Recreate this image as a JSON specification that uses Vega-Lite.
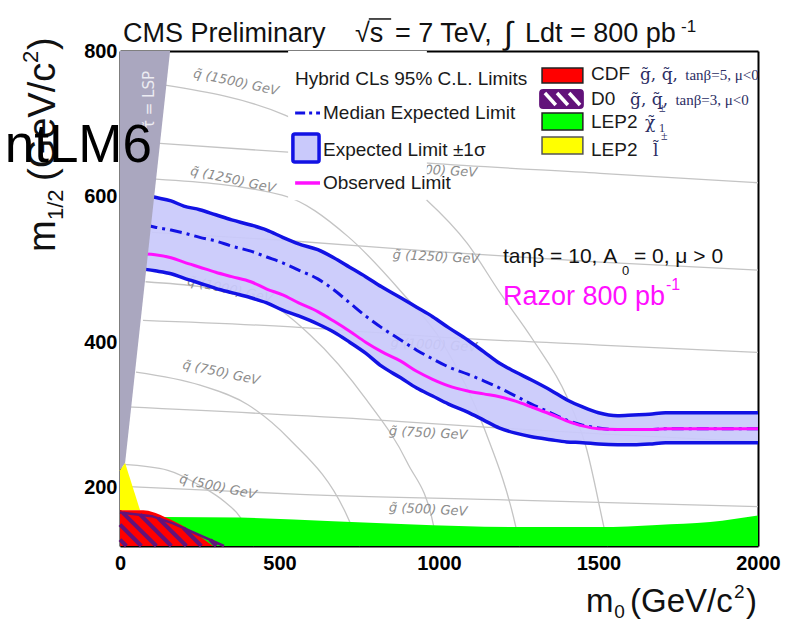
{
  "$schema": "https://vega.github.io/schema/vega-lite/v6.json",
  "width": 638,
  "height": 495,
  "autosize": {"type": "none"},
  "padding": {"left": 120, "top": 51, "right": 40, "bottom": 76},
  "background": "white",
  "config": {
    "view": {"stroke": null},
    "text": {"font": "Liberation Sans"},
    "axis": {"title": null, "grid": false, "zindex": 1, "ticks": false, "domainColor": "#000", "domainWidth": 2, "labelFlush": false, "labelOverlap": false}
  },
  "datasets": {
    "iso": [
      {"c": "q1500", "m0": 141, "m": 753}, {"c": "q1500", "m0": 517, "m": 712}, {"c": "q1500", "m0": 740, "m": 660}, {"c": "q1500", "m0": 962, "m": 595}, {"c": "q1500", "m0": 1088, "m": 536}, {"c": "q1500", "m0": 1191, "m": 468}, {"c": "q1500", "m0": 1295, "m": 403}, {"c": "q1500", "m0": 1401, "m": 325}, {"c": "q1500", "m0": 1461, "m": 256}, {"c": "q1500", "m0": 1517, "m": 146}, {"c": "q1500", "m0": 1530, "m": 120},
      {"c": "q1250", "m0": 112, "m": 624}, {"c": "q1250", "m0": 508, "m": 602}, {"c": "q1250", "m0": 715, "m": 545}, {"c": "q1250", "m0": 880, "m": 470}, {"c": "q1250", "m0": 1010, "m": 400}, {"c": "q1250", "m0": 1144, "m": 279}, {"c": "q1250", "m0": 1241, "m": 146}, {"c": "q1250", "m0": 1254, "m": 120},
      {"c": "q1000", "m0": 80, "m": 483}, {"c": "q1000", "m0": 423, "m": 462}, {"c": "q1000", "m0": 596, "m": 410}, {"c": "q1000", "m0": 774, "m": 320}, {"c": "q1000", "m0": 900, "m": 235}, {"c": "q1000", "m0": 984, "m": 146}, {"c": "q1000", "m0": 994, "m": 120},
      {"c": "q750", "m0": 50, "m": 359}, {"c": "q750", "m0": 251, "m": 341}, {"c": "q750", "m0": 401, "m": 314}, {"c": "q750", "m0": 533, "m": 266}, {"c": "q750", "m0": 708, "m": 165}, {"c": "q750", "m0": 752, "m": 120},
      {"c": "q500", "m0": 10, "m": 232}, {"c": "q500", "m0": 150, "m": 224}, {"c": "q500", "m0": 251, "m": 203}, {"c": "q500", "m0": 330, "m": 180}, {"c": "q500", "m0": 376, "m": 160}, {"c": "q500", "m0": 420, "m": 120},
      {"c": "g1500", "m0": 125, "m": 673}, {"c": "g1500", "m0": 527, "m": 661}, {"c": "g1500", "m0": 966, "m": 646}, {"c": "g1500", "m0": 1505, "m": 632}, {"c": "g1500", "m0": 2000, "m": 619},
      {"c": "g1250", "m0": 100, "m": 551}, {"c": "g1250", "m0": 511, "m": 540}, {"c": "g1250", "m0": 1003, "m": 524}, {"c": "g1250", "m0": 1505, "m": 510}, {"c": "g1250", "m0": 2000, "m": 499},
      {"c": "g1000", "m0": 72, "m": 430}, {"c": "g1000", "m0": 539, "m": 421}, {"c": "g1000", "m0": 1003, "m": 407}, {"c": "g1000", "m0": 1505, "m": 396}, {"c": "g1000", "m0": 2000, "m": 386},
      {"c": "g750", "m0": 22, "m": 311}, {"c": "g750", "m0": 812, "m": 293}, {"c": "g750", "m0": 1157, "m": 283}, {"c": "g750", "m0": 1505, "m": 274}, {"c": "g750", "m0": 2000, "m": 263},
      {"c": "g500", "m0": 10, "m": 202}, {"c": "g500", "m0": 564, "m": 191}, {"c": "g500", "m0": 1235, "m": 183}, {"c": "g500", "m0": 2000, "m": 174}
    ],
    "isoSquark": [
      {"m0": 364, "m": 757, "t": "q\u0303 (1500) GeV"},
      {"m0": 354, "m": 623, "t": "q\u0303 (1250) GeV"},
      {"m0": 345, "m": 472, "t": "q\u0303 (1000) GeV"},
      {"m0": 317, "m": 358, "t": "q\u0303 (750) GeV"},
      {"m0": 307, "m": 201, "t": "q\u0303 (500) GeV"}
    ],
    "isoGluino": [
      {"m0": 984, "m": 636, "t": "g\u0303 (1500) GeV"},
      {"m0": 991, "m": 517, "t": "g\u0303 (1250) GeV"},
      {"m0": 984, "m": 396, "t": "g\u0303 (1000) GeV"},
      {"m0": 966, "m": 275, "t": "g\u0303 (750) GeV"},
      {"m0": 966, "m": 170, "t": "g\u0303 (500) GeV"}
    ],
    "xMajor": [{"v": 0}, {"v": 500}, {"v": 1000}, {"v": 1500}, {"v": 2000}],
    "xMinor": [{"v": 100}, {"v": 200}, {"v": 300}, {"v": 400}, {"v": 600}, {"v": 700}, {"v": 800}, {"v": 900}, {"v": 1100}, {"v": 1200}, {"v": 1300}, {"v": 1400}, {"v": 1600}, {"v": 1700}, {"v": 1800}, {"v": 1900}],
    "yMajor": [{"v": 200}, {"v": 400}, {"v": 600}, {"v": 800}],
    "yMinor": [{"v": 150}, {"v": 250}, {"v": 300}, {"v": 350}, {"v": 450}, {"v": 500}, {"v": 550}, {"v": 650}, {"v": 700}, {"v": 750}],
    "legendPanel": [{"m0": 527, "m0b": 962, "m": 800, "mb": 595}],
    "band": [
      {"m0": 80, "hi": 602, "med": 561, "obs": 521, "lo": 500},
      {"m0": 110, "hi": 599, "med": 558, "obs": 520, "lo": 498},
      {"m0": 160, "hi": 594, "med": 554, "obs": 516, "lo": 494},
      {"m0": 200, "hi": 587, "med": 550, "obs": 510, "lo": 488},
      {"m0": 250, "hi": 582, "med": 544, "obs": 503, "lo": 481},
      {"m0": 300, "hi": 575, "med": 539, "obs": 496, "lo": 474},
      {"m0": 350, "hi": 568, "med": 532, "obs": 490, "lo": 468},
      {"m0": 410, "hi": 561, "med": 525, "obs": 483, "lo": 461},
      {"m0": 460, "hi": 554, "med": 517, "obs": 473, "lo": 454},
      {"m0": 510, "hi": 544, "med": 509, "obs": 465, "lo": 444},
      {"m0": 560, "hi": 535, "med": 499, "obs": 454, "lo": 436},
      {"m0": 620, "hi": 527, "med": 487, "obs": 442, "lo": 425},
      {"m0": 670, "hi": 516, "med": 472, "obs": 429, "lo": 414},
      {"m0": 720, "hi": 503, "med": 454, "obs": 415, "lo": 400},
      {"m0": 770, "hi": 490, "med": 436, "obs": 400, "lo": 385},
      {"m0": 820, "hi": 476, "med": 420, "obs": 387, "lo": 367},
      {"m0": 880, "hi": 461, "med": 403, "obs": 374, "lo": 351},
      {"m0": 930, "hi": 448, "med": 389, "obs": 360, "lo": 337},
      {"m0": 980, "hi": 435, "med": 377, "obs": 349, "lo": 326},
      {"m0": 1030, "hi": 420, "med": 366, "obs": 340, "lo": 315},
      {"m0": 1090, "hi": 403, "med": 356, "obs": 333, "lo": 304},
      {"m0": 1140, "hi": 387, "med": 347, "obs": 329, "lo": 293},
      {"m0": 1190, "hi": 371, "med": 337, "obs": 325, "lo": 282},
      {"m0": 1240, "hi": 359, "med": 326, "obs": 319, "lo": 275},
      {"m0": 1290, "hi": 348, "med": 315, "obs": 311, "lo": 270},
      {"m0": 1350, "hi": 334, "med": 303, "obs": 301, "lo": 266},
      {"m0": 1400, "hi": 321, "med": 293, "obs": 292, "lo": 263},
      {"m0": 1450, "hi": 311, "med": 286, "obs": 285, "lo": 262},
      {"m0": 1500, "hi": 303, "med": 282, "obs": 281, "lo": 260},
      {"m0": 1560, "hi": 299, "med": 280, "obs": 280, "lo": 259},
      {"m0": 1610, "hi": 300, "med": 280, "obs": 280, "lo": 259},
      {"m0": 1660, "hi": 301, "med": 280, "obs": 280, "lo": 260},
      {"m0": 1710, "hi": 303, "med": 281, "obs": 281, "lo": 262},
      {"m0": 1820, "hi": 303, "med": 281, "obs": 281, "lo": 262},
      {"m0": 1910, "hi": 303, "med": 281, "obs": 281, "lo": 262},
      {"m0": 2000, "hi": 303, "med": 281, "obs": 281, "lo": 262}
    ],
    "lsp": [
      {"m0": 0, "m": 800, "mb": 224},
      {"m0": 16, "m": 800, "mb": 234},
      {"m0": 157, "m": 800, "mb": 800}
    ],
    "lep2Slepton": [
      {"m0": 0, "m": 224, "mb": 169},
      {"m0": 16, "m": 234, "mb": 169},
      {"m0": 63, "m": 169, "mb": 169}
    ],
    "lep2Chargino": [
      {"m0": 0, "m": 160, "mb": 120}, {"m0": 141, "m": 160, "mb": 120}, {"m0": 376, "m": 159, "mb": 120}, {"m0": 668, "m": 154, "mb": 120}, {"m0": 900, "m": 150, "mb": 120}, {"m0": 1235, "m": 146, "mb": 120}, {"m0": 1500, "m": 146, "mb": 120}, {"m0": 1683, "m": 149, "mb": 120}, {"m0": 1850, "m": 153, "mb": 120}, {"m0": 2000, "m": 162, "mb": 120}
    ],
    "cdf": [
      {"m0": 0, "m": 169, "mb": 120}, {"m0": 73, "m": 169, "mb": 120}, {"m0": 135, "m": 161, "mb": 120}, {"m0": 188, "m": 150, "mb": 120}, {"m0": 251, "m": 133, "mb": 120}, {"m0": 292, "m": 120, "mb": 120}
    ],
    "d0Edge": [
      {"m0": 0, "m": 166}, {"m0": 100, "m": 161}, {"m0": 166, "m": 151}, {"m0": 326, "m": 120}
    ],
    "d0Hatch": [
      {"s": 1, "m0": 0, "m": 128.8}, {"s": 1, "m0": 20, "m": 120},
      {"s": 2, "m0": 0, "m": 149.3}, {"s": 2, "m0": 67, "m": 120},
      {"s": 3, "m0": 9, "m": 165.6}, {"s": 3, "m0": 114, "m": 120},
      {"s": 4, "m0": 63, "m": 163}, {"s": 4, "m0": 161, "m": 120},
      {"s": 5, "m0": 120, "m": 158.4}, {"s": 5, "m0": 208, "m": 120},
      {"s": 6, "m0": 199, "m": 144.6}, {"s": 6, "m0": 255, "m": 120},
      {"s": 7, "m0": 283, "m": 128.3}, {"s": 7, "m0": 302, "m": 120}
    ],
    "keyBand": [{"m0": 542, "m0b": 624, "m": 686, "mb": 647.5}],
    "keyMedian": [{"m0": 549, "m": 714.8}, {"m0": 627, "m": 714.8}],
    "keyObserved": [{"m0": 549, "m": 618.7}, {"m0": 627, "m": 618.7}],
    "keyCdf": [{"m0": 1323, "m0b": 1451, "m": 776.6, "mb": 756}],
    "keyD0": [{"m0": 1317, "m0b": 1451, "m": 746.4, "mb": 721.7}],
    "keyD0Stripes": [
      {"s": 1, "m0": 1332, "m": 742.3}, {"s": 1, "m0": 1366, "m": 725.8},
      {"s": 2, "m0": 1370, "m": 742.3}, {"s": 2, "m0": 1404, "m": 725.8},
      {"s": 3, "m0": 1408, "m": 742.3}, {"s": 3, "m0": 1442, "m": 725.8}
    ],
    "keyChargino": [{"m0": 1323, "m0b": 1451, "m": 714.8, "mb": 691.5}],
    "keySlepton": [{"m0": 1323, "m0b": 1451, "m": 681.9, "mb": 658.5}],
    "keyText": [
      {"m0": 548.6, "m": 753.3, "t": "Hybrid CLs 95% C.L. Limits"},
      {"m0": 636.4, "m": 706.6, "t": "Median Expected Limit"},
      {"m0": 636.4, "m": 655.8, "t": "Expected Limit \u00b11\u03c3"},
      {"m0": 636.4, "m": 610.4, "t": "Observed Limit"},
      {"m0": 1476.5, "m": 760.2, "t": "CDF"},
      {"m0": 1476.5, "m": 725.8, "t": "D0"},
      {"m0": 1476.5, "m": 694.2, "t": "LEP2"},
      {"m0": 1476.5, "m": 655.8, "t": "LEP2"}
    ],
    "keySparticles": [
      {"m0": 1630, "m": 760.2, "t": "g\u0303, q\u0303,"},
      {"m0": 1599, "m": 725.8, "t": "g\u0303, q\u0303,"},
      {"m0": 1646, "m": 694.2, "t": "\u03c7\u0303"},
      {"m0": 1671, "m": 655.8, "t": "l\u0303"}
    ],
    "keyParams": [
      {"m0": 1772, "m": 760.2, "t": "tan\u03b2=5, \u03bc<0"},
      {"m0": 1741, "m": 725.8, "t": "tan\u03b2=3, \u03bc<0"}
    ],
    "keyIndices": [
      {"m0": 1690, "m": 716, "t": "\u00b1"},
      {"m0": 1690, "m": 688.7, "t": "1"},
      {"m0": 1696, "m": 677.7, "t": "\u00b1"}
    ],
    "modelMain": [
      {"m0": 1200.6, "m": 508.8, "t": "tan\u03b2 = 10,  A"},
      {"m0": 1611, "m": 508.8, "t": "= 0, \u03bc > 0"}
    ],
    "modelSub": [{"m0": 1573.7, "m": 492.3, "t": "0"}],
    "razor": [{"m0": 1200.6, "m": 451.1, "t": "Razor 800 pb"}],
    "razorSup": [{"m0": 1711.6, "m": 471.7, "t": "-1"}],
    "header": [
      {"m0": 9.4, "m": 812.4, "t": "CMS Preliminary"},
      {"m0": 736.7, "m": 812.4, "t": "\u221as"},
      {"m0": 862, "m": 812.4, "t": "= 7 TeV,"},
      {"m0": 1269.6, "m": 812.4, "t": "Ldt = 800 pb"}
    ],
    "rootBar": [{"m0": 780, "m0b": 850, "m": 844}],
    "headerIntegral": [{"m0": 1204, "m": 810, "t": "\u222b"}],
    "headerSup": [{"m0": 1758.6, "m": 826.1, "t": "-1"}],
    "yTitleBig": [
      {"m0": -203.8, "m": 523.9, "t": "m"},
      {"m0": -203.8, "m": 621.4, "t": "(GeV/c"},
      {"m0": -203.8, "m": 801.4, "t": ")"}
    ],
    "yTitleSmall": [
      {"m0": -178.7, "m": 567.8, "t": "1/2"},
      {"m0": -257, "m": 783.5, "t": "2"}
    ],
    "xTitleBig": [
      {"m0": 1461, "m": 29.3, "t": "m"},
      {"m0": 1599, "m": 29.3, "t": "(GeV/c"},
      {"m0": 1962, "m": 29.3, "t": ")"}
    ],
    "xTitleSmall": [
      {"m0": 1549, "m": 21.5, "t": "0"},
      {"m0": 1925, "m": 48.6, "t": "2"}
    ],
    "benchmark": [{"m0": 100.3, "m": 647.5, "t": "ntLM6"}],
    "lspTag": [{"m0": 90.9, "m": 732.7, "t": "\u03c4\u0303 = LSP"}]
  },
  "encoding": {
    "x": {"field": "m0", "type": "quantitative", "scale": {"domain": [0, 2000], "nice": false, "zero": false}, "axis": null},
    "y": {"field": "m", "type": "quantitative", "scale": {"domain": [120, 800], "nice": false, "zero": false}, "axis": null}
  },
  "resolve": {"axis": {"x": "independent", "y": "independent"}},
  "layer": [
    {
      "data": {"name": "iso"},
      "mark": {"type": "line", "color": "#c4c4c4", "strokeWidth": 1.3, "interpolate": "monotone"},
      "encoding": {
        "x": {
          "field": "m0", "type": "quantitative",
          "scale": {"domain": [0, 2000], "nice": false, "zero": false},
          "axis": {
            "orient": "bottom", "values": [0, 500, 1000, 1500, 2000], "format": "d", "domain": true,
            "labelFont": "Liberation Sans", "labelFontWeight": "bold", "labelFontSize": 20, "labelColor": "#000", "labelPadding": 7
          }
        },
        "y": {
          "field": "m", "type": "quantitative",
          "scale": {"domain": [120, 800], "nice": false, "zero": false},
          "axis": {
            "orient": "left", "values": [200, 400, 600, 800], "format": "d", "domain": true,
            "labelFont": "Liberation Sans", "labelFontWeight": "bold", "labelFontSize": 20, "labelColor": "#000", "labelPadding": 3
          }
        },
        "detail": {"field": "c"}
      }
    },
    {
      "data": {"name": "isoSquark"},
      "mark": {"type": "text", "font": "DejaVu Sans", "fontStyle": "italic", "fontSize": 13, "color": "#8c8c8c", "angle": 12, "align": "center", "baseline": "middle"},
      "encoding": {"text": {"field": "t"}}
    },
    {
      "data": {"name": "isoGluino"},
      "mark": {"type": "text", "font": "DejaVu Sans", "fontStyle": "italic", "fontSize": 13, "color": "#8c8c8c", "angle": 3, "align": "center", "baseline": "middle"},
      "encoding": {"text": {"field": "t"}}
    },
    {
      "data": {"name": "legendPanel"},
      "mark": {"type": "rect", "color": "white"},
      "encoding": {"x2": {"field": "m0b"}, "y2": {"field": "mb"}}
    },
    {
      "data": {"name": "band"},
      "mark": {"type": "area", "color": "#c9c9fb", "opacity": 0.93, "interpolate": "monotone"},
      "encoding": {
        "y": {"field": "hi", "type": "quantitative", "scale": {"domain": [120, 800], "nice": false, "zero": false}, "axis": null},
        "y2": {"field": "lo"}
      }
    },
    {
      "data": {"name": "band"},
      "mark": {"type": "line", "color": "#1212e4", "strokeWidth": 3.5, "interpolate": "monotone"},
      "encoding": {"y": {"field": "hi", "type": "quantitative", "scale": {"domain": [120, 800], "nice": false, "zero": false}, "axis": null}}
    },
    {
      "data": {"name": "band"},
      "mark": {"type": "line", "color": "#1212e4", "strokeWidth": 3.5, "interpolate": "monotone"},
      "encoding": {"y": {"field": "lo", "type": "quantitative", "scale": {"domain": [120, 800], "nice": false, "zero": false}, "axis": null}}
    },
    {
      "data": {"name": "band"},
      "mark": {"type": "line", "color": "#1212e4", "strokeWidth": 3, "strokeDash": [12, 5, 3, 5], "interpolate": "monotone"},
      "encoding": {"y": {"field": "med", "type": "quantitative", "scale": {"domain": [120, 800], "nice": false, "zero": false}, "axis": null}}
    },
    {
      "data": {"name": "band"},
      "mark": {"type": "line", "color": "#ff10ff", "strokeWidth": 3, "interpolate": "monotone"},
      "encoding": {"y": {"field": "obs", "type": "quantitative", "scale": {"domain": [120, 800], "nice": false, "zero": false}, "axis": null}}
    },
    {
      "data": {"name": "lsp"},
      "mark": {"type": "area", "color": "#aaa7bf"},
      "encoding": {"y2": {"field": "mb"}}
    },
    {
      "data": {"name": "lspTag"},
      "mark": {"type": "text", "font": "DejaVu Sans", "fontSize": 15, "color": "#ececf2", "angle": 270, "align": "center", "baseline": "middle"},
      "encoding": {"text": {"field": "t"}}
    },
    {
      "data": {"name": "lep2Chargino"},
      "mark": {"type": "area", "color": "#00ff00", "interpolate": "monotone"},
      "encoding": {
        "x": {
          "field": "m0", "type": "quantitative",
          "scale": {"domain": [0, 2000], "nice": false, "zero": false},
          "axis": {"orient": "top", "domain": true, "labels": false}
        },
        "y": {
          "field": "m", "type": "quantitative",
          "scale": {"domain": [120, 800], "nice": false, "zero": false},
          "axis": {"orient": "right", "domain": true, "labels": false}
        },
        "y2": {"field": "mb"}
      }
    },
    {
      "data": {"name": "lep2Slepton"},
      "mark": {"type": "area", "color": "#ffff00"},
      "encoding": {"y2": {"field": "mb"}}
    },
    {
      "data": {"name": "cdf"},
      "mark": {"type": "area", "color": "#ff0000", "interpolate": "monotone"},
      "encoding": {"y2": {"field": "mb"}}
    },
    {
      "data": {"name": "d0Hatch"},
      "mark": {"type": "line", "color": "#62127a", "strokeWidth": 4},
      "encoding": {"detail": {"field": "s"}}
    },
    {
      "data": {"name": "d0Edge"},
      "mark": {"type": "line", "color": "#62127a", "strokeWidth": 2.5},
      "encoding": {}
    },
    {
      "data": {"name": "xMajor"},
      "mark": {"type": "rule", "color": "#000", "strokeWidth": 1.8},
      "encoding": {"x": {"field": "v", "type": "quantitative", "scale": {"domain": [0, 2000], "nice": false, "zero": false}, "axis": null}, "y": {"datum": 120}, "y2": {"datum": 142}}
    },
    {
      "data": {"name": "xMinor"},
      "mark": {"type": "rule", "color": "#000", "strokeWidth": 1.6},
      "encoding": {"x": {"field": "v", "type": "quantitative", "scale": {"domain": [0, 2000], "nice": false, "zero": false}, "axis": null}, "y": {"datum": 120}, "y2": {"datum": 132.4}}
    },
    {
      "data": {"name": "xMajor"},
      "mark": {"type": "rule", "color": "#000", "strokeWidth": 1.8},
      "encoding": {"x": {"field": "v", "type": "quantitative", "scale": {"domain": [0, 2000], "nice": false, "zero": false}, "axis": null}, "y": {"datum": 800}, "y2": {"datum": 779.4}}
    },
    {
      "data": {"name": "xMinor"},
      "mark": {"type": "rule", "color": "#000", "strokeWidth": 1.6},
      "encoding": {"x": {"field": "v", "type": "quantitative", "scale": {"domain": [0, 2000], "nice": false, "zero": false}, "axis": null}, "y": {"datum": 800}, "y2": {"datum": 789}}
    },
    {
      "data": {"name": "yMajor"},
      "mark": {"type": "rule", "color": "#000", "strokeWidth": 1.8},
      "encoding": {"y": {"field": "v", "type": "quantitative", "scale": {"domain": [120, 800], "nice": false, "zero": false}, "axis": null}, "x": {"datum": 0}, "x2": {"datum": 62.7}}
    },
    {
      "data": {"name": "yMinor"},
      "mark": {"type": "rule", "color": "#000", "strokeWidth": 1.6},
      "encoding": {"y": {"field": "v", "type": "quantitative", "scale": {"domain": [120, 800], "nice": false, "zero": false}, "axis": null}, "x": {"datum": 0}, "x2": {"datum": 31.3}}
    },
    {
      "data": {"name": "yMajor"},
      "mark": {"type": "rule", "color": "#000", "strokeWidth": 1.8},
      "encoding": {"y": {"field": "v", "type": "quantitative", "scale": {"domain": [120, 800], "nice": false, "zero": false}, "axis": null}, "x": {"datum": 2000}, "x2": {"datum": 1943.6}}
    },
    {
      "data": {"name": "yMinor"},
      "mark": {"type": "rule", "color": "#000", "strokeWidth": 1.6},
      "encoding": {"y": {"field": "v", "type": "quantitative", "scale": {"domain": [120, 800], "nice": false, "zero": false}, "axis": null}, "x": {"datum": 2000}, "x2": {"datum": 1974.9}}
    },
    {
      "data": {"name": "keyBand"},
      "mark": {"type": "rect", "fill": "#c9c9fb", "stroke": "#1212e4", "strokeWidth": 3.5, "cornerRadius": 2},
      "encoding": {"x2": {"field": "m0b"}, "y2": {"field": "mb"}}
    },
    {
      "data": {"name": "keyMedian"},
      "mark": {"type": "line", "color": "#1212e4", "strokeWidth": 3, "strokeDash": [10, 4, 3, 4]},
      "encoding": {}
    },
    {
      "data": {"name": "keyObserved"},
      "mark": {"type": "line", "color": "#ff10ff", "strokeWidth": 3.5},
      "encoding": {}
    },
    {
      "data": {"name": "keyCdf"},
      "mark": {"type": "rect", "fill": "#ff0000", "stroke": "#222", "strokeWidth": 1.5},
      "encoding": {"x2": {"field": "m0b"}, "y2": {"field": "mb"}}
    },
    {
      "data": {"name": "keyD0"},
      "mark": {"type": "rect", "fill": "#62127a", "stroke": "#62127a", "strokeWidth": 2, "cornerRadius": 3},
      "encoding": {"x2": {"field": "m0b"}, "y2": {"field": "mb"}}
    },
    {
      "data": {"name": "keyD0Stripes"},
      "mark": {"type": "line", "color": "#ffffff", "strokeWidth": 3.5},
      "encoding": {"detail": {"field": "s"}}
    },
    {
      "data": {"name": "keyChargino"},
      "mark": {"type": "rect", "fill": "#00ff00", "stroke": "#222", "strokeWidth": 1.5},
      "encoding": {"x2": {"field": "m0b"}, "y2": {"field": "mb"}}
    },
    {
      "data": {"name": "keySlepton"},
      "mark": {"type": "rect", "fill": "#ffff00", "stroke": "#555", "strokeWidth": 1.5},
      "encoding": {"x2": {"field": "m0b"}, "y2": {"field": "mb"}}
    },
    {
      "data": {"name": "keyText"},
      "mark": {"type": "text", "fontSize": 19, "color": "#1a1a1a", "align": "left", "baseline": "alphabetic"},
      "encoding": {"text": {"field": "t"}}
    },
    {
      "data": {"name": "keySparticles"},
      "mark": {"type": "text", "font": "DejaVu Serif", "fontSize": 17, "color": "#2b2d63", "align": "left", "baseline": "alphabetic"},
      "encoding": {"text": {"field": "t"}}
    },
    {
      "data": {"name": "keyParams"},
      "mark": {"type": "text", "font": "Liberation Serif", "fontSize": 15, "color": "#2b2d63", "align": "left", "baseline": "alphabetic"},
      "encoding": {"text": {"field": "t"}}
    },
    {
      "data": {"name": "keyIndices"},
      "mark": {"type": "text", "font": "Liberation Serif", "fontSize": 12, "color": "#2b2d63", "align": "left", "baseline": "alphabetic"},
      "encoding": {"text": {"field": "t"}}
    },
    {
      "data": {"name": "modelMain"},
      "mark": {"type": "text", "fontSize": 21, "color": "#111", "align": "left", "baseline": "alphabetic"},
      "encoding": {"text": {"field": "t"}}
    },
    {
      "data": {"name": "modelSub"},
      "mark": {"type": "text", "fontSize": 13, "color": "#111", "align": "left", "baseline": "alphabetic"},
      "encoding": {"text": {"field": "t"}}
    },
    {
      "data": {"name": "razor"},
      "mark": {"type": "text", "fontSize": 27, "color": "#ff10ff", "align": "left", "baseline": "alphabetic"},
      "encoding": {"text": {"field": "t"}}
    },
    {
      "data": {"name": "razorSup"},
      "mark": {"type": "text", "fontSize": 16, "color": "#ff10ff", "align": "left", "baseline": "alphabetic"},
      "encoding": {"text": {"field": "t"}}
    },
    {
      "data": {"name": "header"},
      "mark": {"type": "text", "fontSize": 27, "color": "#111", "align": "left", "baseline": "alphabetic"},
      "encoding": {"text": {"field": "t"}}
    },
    {
      "data": {"name": "rootBar"},
      "mark": {"type": "rule", "color": "#111", "strokeWidth": 1.5},
      "encoding": {"x2": {"field": "m0b"}}
    },
    {
      "data": {"name": "headerIntegral"},
      "mark": {"type": "text", "fontSize": 32, "color": "#111", "align": "left", "baseline": "alphabetic"},
      "encoding": {"text": {"field": "t"}}
    },
    {
      "data": {"name": "headerSup"},
      "mark": {"type": "text", "fontSize": 17, "color": "#111", "align": "left", "baseline": "alphabetic"},
      "encoding": {"text": {"field": "t"}}
    },
    {
      "data": {"name": "yTitleBig"},
      "mark": {"type": "text", "fontSize": 38, "color": "#111", "angle": 270, "align": "left", "baseline": "alphabetic"},
      "encoding": {"text": {"field": "t"}}
    },
    {
      "data": {"name": "yTitleSmall"},
      "mark": {"type": "text", "fontSize": 22, "color": "#111", "angle": 270, "align": "left", "baseline": "alphabetic"},
      "encoding": {"text": {"field": "t"}}
    },
    {
      "data": {"name": "xTitleBig"},
      "mark": {"type": "text", "fontSize": 33, "color": "#111", "align": "left", "baseline": "alphabetic"},
      "encoding": {"text": {"field": "t"}}
    },
    {
      "data": {"name": "xTitleSmall"},
      "mark": {"type": "text", "fontSize": 19, "color": "#111", "align": "left", "baseline": "alphabetic"},
      "encoding": {"text": {"field": "t"}}
    },
    {
      "data": {"name": "benchmark"},
      "mark": {"type": "text", "fontSize": 53, "color": "#000", "align": "right", "baseline": "alphabetic"},
      "encoding": {"text": {"field": "t"}}
    }
  ]
}
